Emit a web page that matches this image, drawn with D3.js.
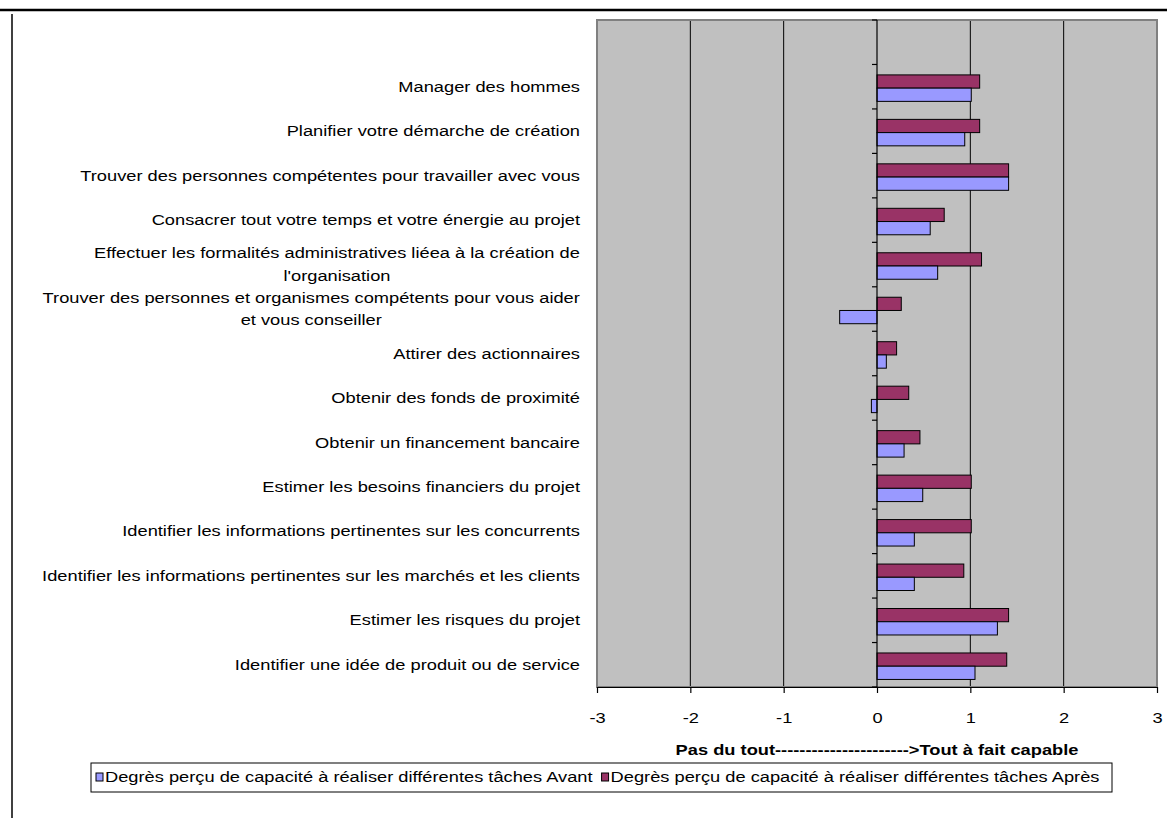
<!DOCTYPE html>
<html lang="fr">
<head>
<meta charset="UTF-8">
<title>Degrés perçu de capacité</title>
<script src="https://d3js.org/d3.v7.min.js"></script>
<style>
  body { margin: 0; background: #fff; }
  svg { display: block; font-family: "Liberation Sans", Arial, sans-serif; }
</style>
</head>
<body>
<div id="chart"></div>
<script>
// categories, top to bottom (the first slot of the axis stays empty, as in the original)
var categories = [
  "Manager des hommes",
  "Planifier votre démarche de création",
  "Trouver des personnes compétentes pour travailler avec vous",
  "Consacrer tout votre temps et votre énergie au projet",
  "Effectuer les formalités administratives liéea à la création de|l'organisation",
  "Trouver des personnes et organismes compétents pour vous aider|et vous conseiller",
  "Attirer des actionnaires",
  "Obtenir des fonds de proximité",
  "Obtenir un financement bancaire",
  "Estimer les besoins financiers du projet",
  "Identifier les informations pertinentes sur les concurrents",
  "Identifier les informations pertinentes sur les marchés et les clients",
  "Estimer les risques du projet",
  "Identifier une idée de produit ou de service"
];
var avant = [1.01, 0.94, 1.41, 0.57, 0.65, -0.40, 0.10, -0.06, 0.29, 0.49, 0.40, 0.40, 1.29, 1.05];
var apres = [1.10, 1.10, 1.41, 0.72, 1.12, 0.26, 0.21, 0.34, 0.46, 1.01, 1.01, 0.93, 1.41, 1.39];
var xTicks = [-3, -2, -1, 0, 1, 2, 3];
var seriesNames = [
  "Degrès perçu de capacité à réaliser différentes tâches Avant",
  "Degrès perçu de capacité à réaliser différentes tâches Après"
];
var axisTitle = "Pas du tout---------------------->Tout à fait capable";

var W = 1167, H = 818;
var plot = { left: 597, right: 1157, top: 20, bottom: 687 };
var sx = 1.26;          // the original picture is stretched horizontally
var fontSize = 14.5;

var svg = d3.select("#chart").append("svg").attr("width", W).attr("height", H);

// frame lines of the page
svg.append("line").attr("x1", 0).attr("x2", W).attr("y1", 10).attr("y2", 10)
  .attr("stroke", "#000").attr("stroke-width", 2.5);
svg.append("line").attr("x1", 12).attr("x2", 12).attr("y1", 14).attr("y2", H)
  .attr("stroke", "#000").attr("stroke-width", 1.5);

var x = d3.scaleLinear().domain([-3, 3]).range([plot.left, plot.right]);
var y = d3.scaleBand().domain([""].concat(categories)).range([plot.top, plot.bottom]);
var inner = d3.scaleBand().domain(["apres", "avant"]).range([0, y.bandwidth()])
  .paddingOuter(0.68).align(0.58);

// plot background
svg.append("rect").attr("x", plot.left).attr("y", plot.top)
  .attr("width", plot.right - plot.left).attr("height", plot.bottom - plot.top)
  .attr("fill", "#c0c0c0");

// vertical gridlines
svg.append("g").selectAll("line").data(xTicks.filter(function (d) { return d !== 0 && Math.abs(d) !== 3; }))
  .join("line")
  .attr("x1", function (d) { return x(d); }).attr("x2", function (d) { return x(d); })
  .attr("y1", plot.top).attr("y2", plot.bottom)
  .attr("stroke", "#000").attr("stroke-width", 1);

svg.append("rect").attr("x", plot.left).attr("y", plot.top)
  .attr("width", plot.right - plot.left).attr("height", plot.bottom - plot.top)
  .attr("fill", "none").attr("stroke", "#808080").attr("stroke-width", 2);

// bars
var rows = categories.map(function (c, i) { return { cat: c, avant: avant[i], apres: apres[i] }; });
var bars = [];
rows.forEach(function (r) {
  bars.push({ cat: r.cat, key: "apres", v: r.apres });
  bars.push({ cat: r.cat, key: "avant", v: r.avant });
});
var colors = { avant: "#9999ff", apres: "#993366" };

svg.append("g").selectAll("rect").data(bars).join("rect")
  .attr("x", function (d) { return x(Math.min(0, d.v)); })
  .attr("y", function (d) { return y(d.cat) + inner(d.key); })
  .attr("width", function (d) { return Math.abs(x(d.v) - x(0)); })
  .attr("height", inner.bandwidth())
  .attr("fill", function (d) { return colors[d.key]; })
  .attr("stroke", "#000").attr("stroke-width", 1);

// vertical axis at zero with ticks between categories
var yAxis = svg.append("g");
yAxis.append("line").attr("x1", x(0)).attr("x2", x(0)).attr("y1", plot.top).attr("y2", plot.bottom)
  .attr("stroke", "#000").attr("stroke-width", 1.2);
var bounds = y.domain().map(function (d) { return y(d); }).concat([plot.bottom]);
yAxis.selectAll(".yt").data(bounds).join("line").attr("class", "yt")
  .attr("x1", x(0) - 5).attr("x2", x(0))
  .attr("y1", function (d) { return d; }).attr("y2", function (d) { return d; })
  .attr("stroke", "#000").attr("stroke-width", 1.2);

// bottom axis
var xAxis = svg.append("g").attr("transform", "translate(0," + plot.bottom + ")")
  .call(d3.axisBottom(x).tickValues(xTicks).tickFormat(function (d) { return String(d); })
    .tickSize(6).tickSizeOuter(0).tickPadding(20));
xAxis.select(".domain").attr("stroke", "#000").attr("stroke-width", 1.2);
xAxis.selectAll(".tick line").attr("stroke", "#000").attr("stroke-width", 1.2);
xAxis.selectAll(".tick text").attr("fill", "#000").style("font-size", fontSize + "px")
  .attr("font-family", "Liberation Sans, Arial, sans-serif")
  .attr("transform", "scale(" + sx + ",1)");

// category labels
var labelRight = 580;
var lab = svg.append("g");
categories.forEach(function (c) {
  var lines = c.split("|");
  var cy = y(c) + y.bandwidth() / 2;
  var lh = 22.5;
  var g = lab.append("g");
  var texts = lines.map(function (t) {
    return g.append("text").text(t)
      .style("font-size", fontSize + "px")
      .attr("dy", "0.35em");
  });
  var maxW = d3.max(texts, function (t) { return t.node().getComputedTextLength(); }) * sx;
  texts.forEach(function (t, i) {
    var ty = cy + (i - (lines.length - 1) / 2) * lh;
    if (lines.length === 1) {
      t.attr("text-anchor", "end")
        .attr("transform", "translate(" + labelRight + "," + ty + ") scale(" + sx + ",1)");
    } else {
      t.attr("text-anchor", "middle")
        .attr("transform", "translate(" + (labelRight - maxW / 2) + "," + ty + ") scale(" + sx + ",1)");
    }
  });
});

// axis title
svg.append("text").text(axisTitle)
  .attr("text-anchor", "middle").attr("dy", "0.35em")
  .style("font-size", fontSize + "px").style("font-weight", "bold")
  .attr("transform", "translate(" + ((plot.left + plot.right) / 2) + ",750) scale(" + sx + ",1)");

// legend
var leg = svg.append("g");
leg.append("rect").attr("x", 91).attr("y", 763).attr("width", 1021).attr("height", 29)
  .attr("fill", "#fff").attr("stroke", "#000").attr("stroke-width", 1);
var lx = 96;
seriesNames.forEach(function (name, i) {
  var key = i === 0 ? "avant" : "apres";
  leg.append("rect").attr("x", lx).attr("y", 773).attr("width", 7).attr("height", 8)
    .attr("fill", colors[key]).attr("stroke", "#000").attr("stroke-width", 1);
  var t = leg.append("text").text(name)
    .style("font-size", fontSize + "px").attr("dy", "0.35em")
    .attr("transform", "translate(" + (lx + 9) + ",777) scale(" + sx + ",1)");
  lx += 9 + t.node().getComputedTextLength() * sx + 9;
});
</script>
</body>
</html>
